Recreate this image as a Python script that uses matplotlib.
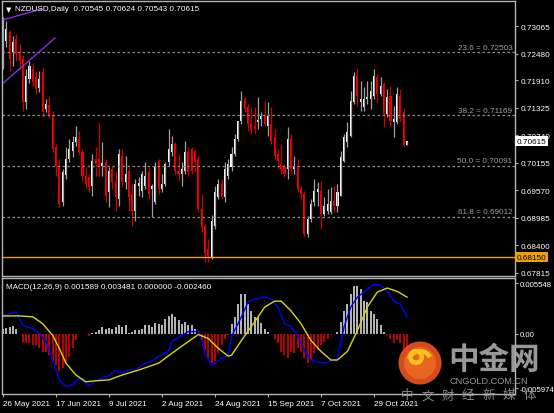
import matplotlib
matplotlib.use("Agg")
import matplotlib.pyplot as plt
import matplotlib.transforms as mtransforms
from matplotlib.patches import Circle, Wedge

plt.rcParams['font.family'] = ['Liberation Sans', 'DejaVu Sans']

# NZDUSD daily candles, 26 May 2021 onward
opens = [0.7219, 0.7275, 0.7294, 0.7251, 0.7279, 0.7253, 0.7236, 0.7145, 0.7194, 0.7215,
         0.7198, 0.7175, 0.7209, 0.7130, 0.7139, 0.7117, 0.7049, 0.7007, 0.6932, 0.6990,
         0.7024, 0.7041, 0.7060, 0.7066, 0.7039, 0.6988, 0.6986, 0.6966, 0.7024, 0.7024,
         0.7009, 0.7017, 0.6954, 0.7003, 0.6977, 0.6939, 0.7030, 0.6975, 0.6998, 0.6949,
         0.6913, 0.6966, 0.6956, 0.6966, 0.6996, 0.6960, 0.6932, 0.7020, 0.6960, 0.6971,
         0.7017, 0.7039, 0.7056, 0.6998, 0.6992, 0.6998, 0.7039, 0.7045, 0.7041, 0.7024,
         0.6917, 0.6881, 0.6832, 0.6815, 0.6881, 0.6943, 0.6971, 0.6943, 0.6988, 0.7007,
         0.7034, 0.7066, 0.7105, 0.7151, 0.7134, 0.7098, 0.7094, 0.7102, 0.7109, 0.7115,
         0.7094, 0.7098, 0.7071, 0.7034, 0.7013, 0.7007, 0.7003, 0.7066, 0.7003, 0.7007,
         0.6960, 0.6949, 0.6864, 0.6896, 0.6932, 0.6954, 0.6956, 0.6907, 0.6913, 0.6911,
         0.6934, 0.6924, 0.6945, 0.7020, 0.7060, 0.7073, 0.7145, 0.7200, 0.7145, 0.7134,
         0.7151, 0.7151, 0.7158, 0.7198, 0.7162, 0.7183, 0.7119, 0.7158, 0.7102, 0.7102,
         0.7158, 0.7124, 0.70545]
highs = [0.7326, 0.7317, 0.7298, 0.7285, 0.7290, 0.7268, 0.7245, 0.7215, 0.7232, 0.7228,
         0.7211, 0.7211, 0.7219, 0.7151, 0.7158, 0.7126, 0.7056, 0.7024, 0.7003, 0.7049,
         0.7066, 0.7073, 0.7094, 0.7083, 0.7045, 0.7007, 0.6992, 0.7034, 0.7049, 0.7102,
         0.7060, 0.7024, 0.7007, 0.7009, 0.6998, 0.7045, 0.7045, 0.7030, 0.7007, 0.6971,
         0.6981, 0.6986, 0.6998, 0.7017, 0.7007, 0.6971, 0.7017, 0.7024, 0.6992, 0.7017,
         0.7088, 0.7073, 0.7060, 0.7034, 0.7017, 0.7062, 0.7049, 0.7049, 0.7045, 0.7030,
         0.6949, 0.6886, 0.6854, 0.6905, 0.6966, 0.6981, 0.6981, 0.7017, 0.7024, 0.7049,
         0.7077, 0.7105, 0.7168, 0.7156, 0.7141, 0.7134, 0.7134, 0.7156, 0.7124, 0.7147,
         0.7145, 0.7134, 0.7088, 0.7045, 0.7056, 0.7013, 0.7092, 0.7077, 0.7030, 0.7024,
         0.6966, 0.6956, 0.6903, 0.6939, 0.6981, 0.6975, 0.6977, 0.6943, 0.6960, 0.6964,
         0.6966, 0.6971, 0.7041, 0.7077, 0.7102, 0.7168, 0.7209, 0.7217, 0.7190, 0.7177,
         0.7190, 0.7190, 0.7215, 0.7204, 0.7198, 0.7187, 0.7173, 0.7179, 0.7136, 0.7177,
         0.7173, 0.7132, 0.70624]
lows = [0.7215, 0.7262, 0.7211, 0.7222, 0.7232, 0.7215, 0.7126, 0.7130, 0.7185, 0.7179,
        0.7162, 0.7166, 0.7113, 0.7124, 0.7111, 0.7039, 0.6988, 0.6922, 0.6924, 0.6981,
        0.7017, 0.7028, 0.7051, 0.7032, 0.6977, 0.6960, 0.6954, 0.6945, 0.6988, 0.6988,
        0.6988, 0.6932, 0.6922, 0.6960, 0.6913, 0.6924, 0.6964, 0.6960, 0.6913, 0.6881,
        0.6892, 0.6945, 0.6943, 0.6960, 0.6939, 0.6900, 0.6928, 0.6949, 0.6954, 0.6966,
        0.7009, 0.7030, 0.6992, 0.6977, 0.6966, 0.6992, 0.6988, 0.6992, 0.6996, 0.6911,
        0.6869, 0.6805, 0.6805, 0.6811, 0.6875, 0.6939, 0.6939, 0.6932, 0.6981, 0.6998,
        0.7030, 0.7062, 0.7098, 0.7124, 0.7083, 0.7077, 0.7077, 0.7088, 0.7094, 0.7094,
        0.7073, 0.7056, 0.7024, 0.7003, 0.6992, 0.6986, 0.6981, 0.6992, 0.6992, 0.6954,
        0.6939, 0.6858, 0.6858, 0.6890, 0.6924, 0.6924, 0.6875, 0.6902, 0.6907, 0.6907,
        0.6911, 0.6911, 0.6945, 0.7017, 0.7049, 0.7071, 0.7141, 0.7136, 0.7126, 0.7126,
        0.7141, 0.7130, 0.7151, 0.7145, 0.7158, 0.7092, 0.7113, 0.7094, 0.7071, 0.7098,
        0.7105, 0.7051, 0.70543]
closes = [0.7311, 0.7300, 0.7236, 0.7273, 0.7247, 0.7232, 0.7145, 0.7200, 0.7222, 0.7187,
          0.7173, 0.7194, 0.7124, 0.7141, 0.7117, 0.7045, 0.7009, 0.6928, 0.6996, 0.7024,
          0.7045, 0.7060, 0.7071, 0.7039, 0.6988, 0.6971, 0.6964, 0.7020, 0.7013, 0.7009,
          0.7015, 0.6945, 0.6998, 0.6975, 0.6943, 0.7034, 0.6975, 0.6992, 0.6943, 0.6913,
          0.6971, 0.6973, 0.6992, 0.6988, 0.6949, 0.6966, 0.7007, 0.6960, 0.6971, 0.7013,
          0.7045, 0.7056, 0.6998, 0.6992, 0.7003, 0.7039, 0.6996, 0.6998, 0.7017, 0.6917,
          0.6879, 0.6823, 0.6818, 0.6892, 0.6954, 0.6971, 0.6943, 0.7003, 0.7013, 0.7034,
          0.7066, 0.7105, 0.7147, 0.7130, 0.7098, 0.7085, 0.7088, 0.7107, 0.7115, 0.7098,
          0.7115, 0.7062, 0.7030, 0.7020, 0.7003, 0.6992, 0.7066, 0.7003, 0.7009, 0.6960,
          0.6949, 0.6864, 0.6896, 0.6928, 0.6956, 0.6960, 0.6907, 0.6924, 0.6928, 0.6934,
          0.6924, 0.6954, 0.7028, 0.7071, 0.7081, 0.7147, 0.7200, 0.7158, 0.7151, 0.7151,
          0.7156, 0.7168, 0.7200, 0.7162, 0.7179, 0.7119, 0.7156, 0.7105, 0.7109, 0.7162,
          0.7109, 0.7054, 0.70615]

# MACD(12,26,9) panel
macd_hist = [0.0005, 0.00065, 0.00072, 0.00079, 0.00054, 0.0, -0.0009, -0.001, -0.00108, -0.00126,
             -0.00126, -0.00162, -0.00198, -0.00198, -0.00234, -0.00288, -0.00342, -0.00414, -0.00378, -0.00324,
             -0.00252, -0.00162, -0.00065, 0.0, 0.0, -0.0001, -0.0003, 0.0001, 0.00018, 0.00036,
             0.00072, 0.00054, 0.00065, 0.00054, 0.00072, 0.0009, 0.00072, 0.0009, 0.0001, 0.0002,
             0.00036, 0.00043, 0.00054, 0.0009, 0.0009, 0.00072, 0.00115, 0.00108, 0.0009, 0.00162,
             0.00198, 0.00216, 0.0018, 0.00144, 0.00108, 0.00126, 0.0009, 0.0009, 0.00054, 0.0,
             -0.0009, -0.0018, -0.0027, -0.00324, -0.00306, -0.00216, -0.00126, -0.00054, -0.00018, 0.00108,
             0.0018, 0.00324, 0.00432, 0.00432, 0.00324, 0.00252, 0.0018, 0.0018, 0.00115, 0.00054,
             0.00018, 0.0, -0.00054, -0.00108, -0.00198, -0.00234, -0.0027, -0.00198, -0.00216, -0.00162,
             -0.00198, -0.0027, -0.00324, -0.00288, -0.00216, -0.0018, -0.00126, -0.0009, -0.00054, -0.00018,
             -0.0001, 0.00018, 0.00126, 0.00252, 0.00324, 0.00432, 0.00522, 0.00522, 0.00486, 0.0036,
             0.00342, 0.00252, 0.00216, 0.00162, 0.0009, 0.00018, -0.00018, -0.00054, -0.00108, -0.00072,
             -0.00108, -0.0021, -0.00246]
blue_idx = [0, 4, 6, 9, 11, 13, 15, 17, 19, 21, 23, 25, 26, 28, 30, 32, 34, 36, 38, 40,
            43, 45, 47, 50, 51, 53, 56, 59, 60, 61, 63, 64, 66, 68, 69, 72, 74, 76, 79, 81,
            83, 85, 87, 89, 91, 93, 95, 97, 99, 101, 103, 105, 107, 110, 112, 114, 116, 118, 120, 122]
blue_val = [0.00194, 0.00238, 0.00086, 0.00054, 0.0, -0.00086, -0.00292, -0.00508, -0.00583, -0.00562,
            -0.00486, -0.0054, -0.00572, -0.00518, -0.00486, -0.00464, -0.0040, -0.00432, -0.0040, -0.0040,
            -0.00324, -0.00302, -0.00248, -0.00194, -0.00086, -0.00043, 0.00022, 0.00022, -0.00076, -0.00216,
            -0.00356, -0.00324, -0.0027, -0.00238, -0.00032, 0.00184, 0.00346, 0.00378, 0.004, 0.00378,
            0.0029, 0.00108, 0.00076, -0.0002, -0.00184, -0.0029, -0.00313, -0.00324, -0.00302, -0.0027,
            0.00076, 0.0029, 0.004, 0.00486, 0.0054, 0.0053, 0.00464, 0.00356, 0.00324, 0.00184]
yellow_idx = [0, 5, 9, 12, 15, 17, 19, 22, 25, 28, 32, 36, 41, 47, 51, 56, 59, 62, 65, 68,
              69, 72, 76, 79, 82, 84, 87, 90, 93, 96, 99, 101, 104, 107, 110, 113, 116, 119, 122]
yellow_val = [0.00194, 0.00194, 0.00184, 0.00108, -0.0002, -0.00162, -0.00324, -0.00454, -0.00529, -0.00518,
              -0.00508, -0.00454, -0.0040, -0.00324, -0.00216, -0.00086, -0.0001, -0.00054, -0.00162, -0.00248,
              -0.00238, -0.00076, 0.0013, 0.0029, 0.00356, 0.00356, 0.00248, 0.00108, -0.00076, -0.00194,
              -0.0029, -0.0029, -0.00194, 0.00032, 0.0029, 0.00454, 0.005, 0.00464, 0.004]

fib_names = ['23.6', '38.2', '50.0', '61.8']
fib_levels = [0.72503, 0.71169, 0.70091, 0.69012]
support_level = 0.68150
price_ticks = [0.73065, 0.72480, 0.71910, 0.71325, 0.70740, 0.70155, 0.69570, 0.68985, 0.68400, 0.67815]
macd_ticks = [0.005548, 0.0, -0.005974]
macd_tick_labels = ['0.005548', '0.00', '-0.005974']
date_pos = [0, 16, 32, 48, 64, 80, 96, 112]
date_labels = ['26 May 2021', '17 Jun 2021', '9 Jul 2021', '2 Aug 2021',
               '24 Aug 2021', '15 Sep 2021', '7 Oct 2021', '29 Oct 2021']
trend1_x, trend1_y = [-0.3, 11.8], [0.7319, 0.7343]
trend2_x, trend2_y = [-0.3, 15.7], [0.7183, 0.7281]

W, H = 554, 414
fig = plt.figure(figsize=(W / 100, H / 100), dpi=100, facecolor='black')


def px_box(x0, y0, x1, y1):
    return [x0 / W, 1 - y1 / H, (x1 - x0) / W, (y1 - y0) / H]


ax = fig.add_axes(px_box(2, 2, 515, 277), facecolor='black')
axm = fig.add_axes(px_box(2, 279, 515, 395), facecolor='black', sharex=ax)

frame = '#b4b4b4'
for a in (ax, axm):
    for s in a.spines.values():
        s.set_color(frame)
        s.set_linewidth(1.0)
    a.yaxis.tick_right()
    a.tick_params(axis='y', color=frame, labelcolor='white', labelsize=5.9,
                  length=2.5, width=0.8, pad=1.3)
axm.tick_params(axis='y', labelsize=5.6, pad=1.0)

# candles
n = len(closes)
up = [i for i in range(n) if closes[i] >= opens[i]]
dn = [i for i in range(n) if closes[i] < opens[i]]
ax.vlines(up, [lows[i] for i in up], [highs[i] for i in up], color='#a0a0a0', lw=0.9)
ax.vlines(dn, [lows[i] for i in dn], [highs[i] for i in dn], color='#cc0000', lw=0.9)
ax.bar(up, [max(closes[i] - opens[i], 0.00008) for i in up], bottom=[opens[i] for i in up],
       width=0.62, color='white', lw=0)
ax.bar(dn, [opens[i] - closes[i] for i in dn], bottom=[closes[i] for i in dn],
       width=0.62, color='#ff0000', lw=0)

# fibonacci levels
btr = mtransforms.blended_transform_factory(ax.transAxes, ax.transData)
for name, lv in zip(fib_names, fib_levels):
    ax.axhline(lv, color='#8c8c8c', lw=0.9, ls=(0, (2, 2)))
    ax.text(0.995, lv + 0.0003, f'{name} = {lv:.5f}', transform=btr, ha='right', va='bottom',
            color='#a0a0a0', fontsize=5.9)
ax.axhline(support_level, color='#f0a000', lw=1.0)

ax.plot(trend1_x, trend1_y, color='#8a2be2', lw=1.0)
ax.plot(trend2_x, trend2_y, color='#8a2be2', lw=1.0)

ax.set_xlim(-0.3, 154.6)
ax.set_ylim(0.67750, 0.73597)
ax.set_yticks(price_ticks, [f'{v:.5f}' for v in price_ticks])
ax.tick_params(axis='x', bottom=False, labelbottom=False)

ax.text(1.004, closes[-1], f'{closes[-1]:.5f}', transform=btr, ha='left', va='center',
        color='black', fontsize=5.9, zorder=10,
        bbox=dict(boxstyle='square,pad=0.2', fc='white', ec='none'))
ax.text(1.004, support_level, f'{support_level:.5f}', transform=btr, ha='left', va='center',
        color='black', fontsize=5.9, zorder=10,
        bbox=dict(boxstyle='square,pad=0.2', fc='#f0a000', ec='none'))

ax.text(0.008, 0.972, '\u25bc', transform=ax.transAxes, color='white', fontsize=5,
        ha='left', va='center', family=['DejaVu Sans'])
ax.text(0.026, 0.972,
        f'NZDUSD,Daily  {opens[-1]:.5f} {highs[-1]:.5f} {lows[-1]:.5f} {closes[-1]:.5f}',
        transform=ax.transAxes, color='white', fontsize=5.9, ha='left', va='center')

# MACD panel
pos_i = [i for i in range(n) if macd_hist[i] >= 0]
neg_i = [i for i in range(n) if macd_hist[i] < 0]
axm.vlines(pos_i, 0, [macd_hist[i] for i in pos_i], color='#d8d8d8', lw=1.2)
axm.vlines(neg_i, 0, [macd_hist[i] for i in neg_i], color='#dd0000', lw=1.2)
axm.plot(blue_idx, blue_val, color='#0000ff', lw=1.0)
axm.plot(yellow_idx, yellow_val, color='#d8d800', lw=1.0)
axm.set_ylim(-0.00663, 0.0061)
axm.set_yticks(macd_ticks, macd_tick_labels)
axm.set_xticks(date_pos, date_labels)
axm.tick_params(axis='x', color=frame, labelcolor='white', labelsize=5.9,
                length=2.5, width=0.8, pad=1.5)
for lbl in axm.get_xticklabels():
    lbl.set_horizontalalignment('left')
axm.text(0.008, 0.93, 'MACD(12,26,9) 0.001589 0.003481 0.000000 -0.002460',
         transform=axm.transAxes, color='white', fontsize=5.9, ha='left', va='center')

# watermark overlay
ov = fig.add_axes([0, 0, 1, 1], facecolor='none', zorder=20)
ov.set_xlim(0, W)
ov.set_ylim(H, 0)
ov.axis('off')
ov.add_patch(Circle((420, 364), 21.5, fc='#e3501e', ec='none', alpha=0.95))
ov.add_patch(Circle((420, 364), 16, fc='#ec6a22', ec='none', alpha=0.9))
ov.add_patch(Wedge((416, 358), 8, 0, 360, width=4.5, fc='#f7c21c', ec='none'))
ov.add_patch(Wedge((420, 364), 14, 200, 330, width=4.5, fc='#f7c21c', ec='none'))
ov.text(494, 360, '中金网', ha='center', va='center', fontsize=22, fontweight='bold',
        color='#a6a6a6', alpha=0.92, family=['Noto Sans CJK SC', 'DejaVu Sans'])
ov.text(489, 382, 'CNGOLD.COM.CN', ha='center', va='center', fontsize=6.6,
        color='#a6a6a6', alpha=0.92)
for k, ch in enumerate('中文财经新媒体'):
    ov.text(407 + 20.4 * k, 396, ch, ha='center', va='center', fontsize=9,
            color='#9a9a9a', alpha=0.9, family=['Noto Sans CJK SC', 'DejaVu Sans'])

fig.savefig('out.png', dpi=100, facecolor='black')
